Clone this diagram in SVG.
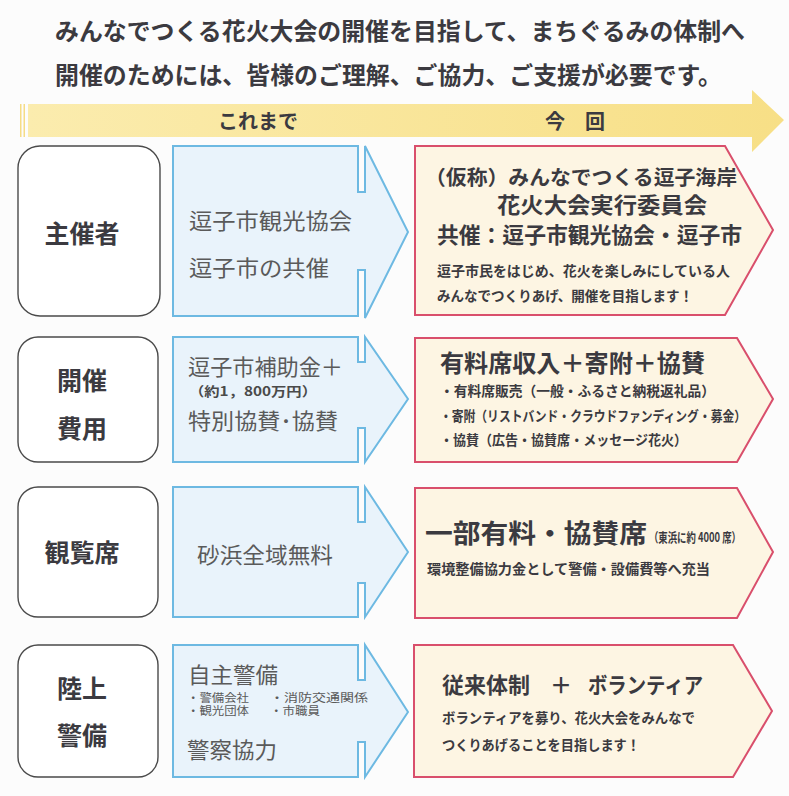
<svg xmlns="http://www.w3.org/2000/svg" width="789" height="796" viewBox="0 0 789 796">
<defs>
<linearGradient id="band" x1="0" y1="0" x2="1" y2="0">
<stop offset="0" stop-color="#fbecae"/>
<stop offset="1" stop-color="#f7df86"/>
</linearGradient>
</defs>
<style>
text{font-family:"Noto Sans CJK JP","Noto Sans CJK SC",sans-serif;fill:#3b3a40}
.h{font-size:24px;font-weight:700}
.lab{font-size:25px;font-weight:700;text-anchor:middle}
.old{font-size:22px;font-weight:400;fill:#5a5a5a}
.sm{font-size:13px;font-weight:700;fill:#4a4a4a}
.oldsm{font-size:11.5px;font-weight:400;fill:#5a5a5a}
.nt{font-size:22px;font-weight:700}
.ns{font-size:14px;font-weight:700}
.cat{fill:#ffffff;stroke:#4a4a4a;stroke-width:1.4}
.old-s{fill:#e9f3fb;stroke:#6db9e2;stroke-width:2}
.new-s{fill:#fdf5e3;stroke:#d94f6c;stroke-width:2}
</style>
<rect width="789" height="796" fill="#fcfcfc"/>
<g id="header">
<text class="h" x="55" y="40" textLength="690" lengthAdjust="spacingAndGlyphs">みんなでつくる花火大会の開催を目指して、まちぐるみの体制へ</text>
<text class="h" x="55" y="84" textLength="667" lengthAdjust="spacingAndGlyphs">開催のためには、皆様のご理解、ご協力、ご支援が必要です。</text>
</g>
<g id="timeline">
<path d="M28,104 H752 V90 L784,120 L752,152 V137 H28 Z" fill="url(#band)"/>
<rect x="20" y="104" width="1.5" height="33" fill="#f5dc86"/>
<rect x="23.5" y="104" width="1.5" height="33" fill="#f5dc86"/>
<text x="258" y="129" style="font-size:20px;font-weight:700;text-anchor:middle">これまで</text>
<text x="575" y="129" style="font-size:20px;font-weight:700;text-anchor:middle" xml:space="preserve">今　回</text>
</g>
<g id="connectors">
<path class="old-s" d="M173,146 H358 V192 H365 V146 L408,232 L365,318 V270 H358 V316 H173 Z"/>
<path class="old-s" d="M173,337 H358 V362 H365 V337 L408,399 L365,462 V428 H358 V462 H173 Z"/>
<path class="old-s" d="M173,487 H358 V522 H365 V487 L408,552 L365,617 V583 H358 V617 H173 Z"/>
<path class="old-s" d="M173,645 H358 V680 H365 V645 L408,712 L365,777 V742 H358 V777 H173 Z"/>
</g>
<g id="row-organizer">
<rect class="cat" x="18" y="146" width="142" height="170" rx="22"/>
<text class="lab" x="82" y="243">主催者</text>
<text class="old" x="189" y="229" textLength="163" lengthAdjust="spacingAndGlyphs">逗子市観光協会</text>
<text class="old" x="189" y="276" textLength="140" lengthAdjust="spacingAndGlyphs">逗子市の共催</text>
<path class="new-s" d="M415,146 H725 L773,230 L725,315 H415 Z"/>
<text x="425" y="185" style="font-size:20px;font-weight:700" textLength="312" lengthAdjust="spacingAndGlyphs">（仮称）みんなでつくる逗子海岸</text>
<text x="497" y="213" style="font-size:22px;font-weight:700" textLength="210" lengthAdjust="spacingAndGlyphs">花火大会実行委員会</text>
<text class="nt" x="437" y="243" textLength="305" lengthAdjust="spacingAndGlyphs">共催：逗子市観光協会・逗子市</text>
<text class="ns" x="437" y="276" textLength="293" lengthAdjust="spacingAndGlyphs">逗子市民をはじめ、花火を楽しみにしている人</text>
<text class="ns" x="437" y="301" textLength="256" lengthAdjust="spacingAndGlyphs">みんなでつくりあげ、開催を目指します！</text>
</g>
<g id="row-cost">
<rect class="cat" x="18" y="337" width="140" height="125" rx="20"/>
<text class="lab" x="82" y="390">開催</text>
<text class="lab" x="82" y="438">費用</text>
<text class="old" x="188" y="375" textLength="155" lengthAdjust="spacingAndGlyphs">逗子市補助金＋</text>
<text class="sm" x="189" y="396" textLength="128" lengthAdjust="spacingAndGlyphs">（約1，800万円）</text>
<text class="old" x="188" y="429" textLength="150" lengthAdjust="spacingAndGlyphs">特別協賛･協賛</text>
<path class="new-s" d="M415,338 H737 L773,399 L737,462 H415 Z"/>
<text x="440" y="372" style="font-size:24px;font-weight:700" textLength="265" lengthAdjust="spacingAndGlyphs">有料席収入＋寄附＋協賛</text>
<text class="ns" x="440" y="396" textLength="275" lengthAdjust="spacingAndGlyphs">・有料席販売（一般・ふるさと納税返礼品）</text>
<text class="ns" x="440" y="421" textLength="306" lengthAdjust="spacingAndGlyphs">・寄附（リストバンド・クラウドファンディング・募金）</text>
<text class="ns" x="440" y="445" textLength="247" lengthAdjust="spacingAndGlyphs">・協賛（広告・協賛席・メッセージ花火）</text>
</g>
<g id="row-seats">
<rect class="cat" x="18" y="487" width="140" height="130" rx="20"/>
<text class="lab" x="82" y="562">観覧席</text>
<text class="old" x="197" y="563" textLength="136" lengthAdjust="spacingAndGlyphs">砂浜全域無料</text>
<path class="new-s" d="M415,488 H737 L773,552 L737,618 H415 Z"/>
<text x="425" y="543" style="font-size:26px;font-weight:700" textLength="222" lengthAdjust="spacingAndGlyphs">一部有料・協賛席</text>
<text x="649" y="542" style="font-size:13px;font-weight:700" textLength="92" lengthAdjust="spacingAndGlyphs">（東浜に約 4000 席）</text>
<text class="ns" x="427" y="574" textLength="283" lengthAdjust="spacingAndGlyphs">環境整備協力金として警備・設備費等へ充当</text>
</g>
<g id="row-security">
<rect class="cat" x="18" y="645" width="140" height="132" rx="20"/>
<text class="lab" x="82" y="698">陸上</text>
<text class="lab" x="82" y="745">警備</text>
<text class="old" x="188" y="683" textLength="90" lengthAdjust="spacingAndGlyphs">自主警備</text>
<text class="oldsm" x="187" y="702" textLength="62" lengthAdjust="spacingAndGlyphs">・警備会社</text>
<text class="oldsm" x="270" y="702" textLength="98" lengthAdjust="spacingAndGlyphs">・消防交通関係</text>
<text class="oldsm" x="187" y="715" textLength="62" lengthAdjust="spacingAndGlyphs">・観光団体</text>
<text class="oldsm" x="270" y="715" textLength="50" lengthAdjust="spacingAndGlyphs">・市職員</text>
<text class="old" x="187" y="758" textLength="90" lengthAdjust="spacingAndGlyphs">警察協力</text>
<path class="new-s" d="M414,645 H733 L772,711 L733,777 H414 Z"/>
<text class="nt" x="442" y="693">従来体制</text>
<text class="nt" x="550" y="693">＋</text>
<text class="nt" x="588" y="693" textLength="115" lengthAdjust="spacingAndGlyphs">ボランティア</text>
<text class="ns" x="442" y="723" textLength="253" lengthAdjust="spacingAndGlyphs">ボランティアを募り、花火大会をみんなで</text>
<text class="ns" x="442" y="750" textLength="198" lengthAdjust="spacingAndGlyphs">つくりあげることを目指します！</text>
</g>
</svg>
